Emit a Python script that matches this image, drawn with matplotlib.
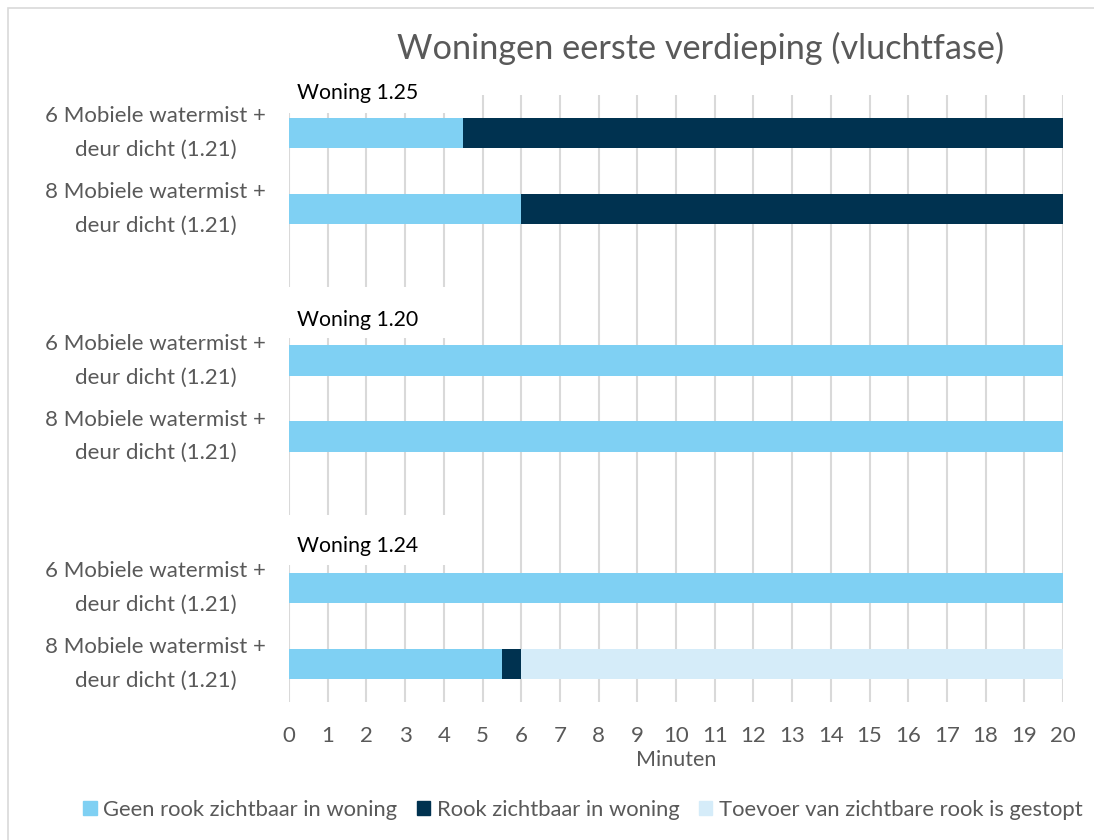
import matplotlib
matplotlib.use("Agg")
import matplotlib.pyplot as plt
from matplotlib.patches import Rectangle, Patch
import numpy as np

plt.rcParams['font.family'] = ['Lato', 'DejaVu Sans']

lbl6 = "6 Mobiele watermist +\ndeur dicht (1.21)"
lbl8 = "8 Mobiele watermist +\ndeur dicht (1.21)"
categories = [lbl6, lbl8, "", lbl6, lbl8, "", lbl6, lbl8]
geen_rook = [4.5, 6, 0, 20, 20, 0, 20, 5.5]
rook = [15.5, 14, 0, 0, 0, 0, 0, 0.5]
gestopt = [0, 0, 0, 0, 0, 0, 0, 14]
series_names = ["Geen rook zichtbaar in woning", "Rook zichtbaar in woning",
                "Toevoer van zichtbare rook is gestopt"]
groups = ["Woning 1.25", "Woning 1.20", "Woning 1.24"]
x_ticks = list(range(0, 21))

c_light = "#7FD0F3"
c_dark = "#003250"
c_pale = "#D5ECF9"
grey = "#595959"

fig = plt.figure(figsize=(10.94, 8.4), dpi=100)
fig.patches.append(Rectangle((0.007, -0.01), 1.1, 1.0, transform=fig.transFigure,
                             fill=False, edgecolor="#D9D9D9", lw=1.2))
ax = fig.add_axes([289/1094, 1-702/840, (1063-289)/1094, (702-95)/840])

y = np.arange(len(categories))
h = 0.4
g = np.array(geen_rook); r = np.array(rook); s = np.array(gestopt)
ax.barh(y, g, height=h, color=c_light, zorder=3, label=series_names[0])
ax.barh(y, r, left=g, height=h, color=c_dark, zorder=3, label=series_names[1])
ax.barh(y, s, left=g + r, height=h, color=c_pale, zorder=3, label=series_names[2])

ax.set_xlim(0, 20)
ax.set_ylim(len(categories) - 0.5, -0.5)
ax.set_xticks(x_ticks)
ax.set_xticklabels([str(t) for t in x_ticks], fontsize=16, color=grey)
ax.set_yticks(y)
ax.set_yticklabels(categories, fontsize=16, color=grey, ha="center", va="center",
                   linespacing=1.85)
ax.tick_params(axis="y", length=0, pad=96)
ax.tick_params(axis="x", length=0, pad=17)
ax.grid(axis="x", color="#D9D9D9", lw=1.5, zorder=0)
for sp in ax.spines.values():
    sp.set_visible(False)

ax.set_xlabel("Minuten", fontsize=15.5, color=grey, labelpad=3)

# group labels with white boxes
box_specs = [(-1.2, -0.26), (2.03, 2.70), (5.03, 5.70)]
text_y = [-0.53, 2.46, 5.44]
for name, (y0, y1), ty in zip(groups, box_specs, text_y):
    ax.add_patch(Rectangle((-0.1, y0), 4.6, y1 - y0, facecolor="white",
                           edgecolor="none", zorder=2, clip_on=False))
    ax.text(0.2, ty, name, fontsize=15.3, color="black", va="center", ha="left",
            zorder=4, clip_on=False)

fig.text(0.64, 1-48/840, "Woningen eerste verdieping (vluchtfase)",
         fontsize=24.7, color=grey, ha="center", va="center")

handles = [Patch(color=c_light), Patch(color=c_dark), Patch(color=c_pale)]
fig.legend(handles, series_names, loc="center", bbox_to_anchor=(0.533, 1-810/840),
           ncol=3, frameon=False, fontsize=15.8, labelcolor=grey,
           handlelength=0.6, handleheight=0.6, handletextpad=0.3, columnspacing=0.9)

fig.savefig("out.png", dpi=100, facecolor="white")
